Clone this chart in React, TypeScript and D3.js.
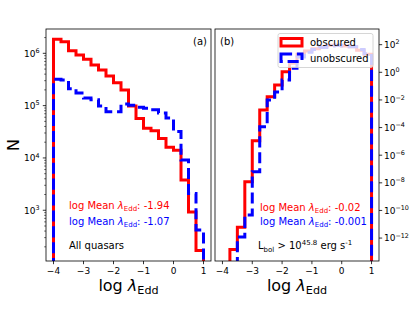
import React from 'react';
import * as d3 from 'd3';

// bin edges of log lambda_Edd histograms
const binEdges = [-4, -3.75, -3.5, -3.25, -3, -2.75, -2.5, -2.25, -2, -1.75, -1.5,
  -1.25, -1, -0.75, -0.5, -0.25, 0, 0.25, 0.5, 0.75, 1];

// panel (a): all quasars, counts per bin
const allObscured = [1.85e6, 1.67e6, 1.12e6, 9.3e5, 7.7e5, 6.0e5, 4.8e5, 3.7e5, 2.75e5, 2.0e5,
  9.8e4, 5.7e4, 3.7e4, 3.3e4, 2.35e4, 1.6e4, 1.4e4, 3.8e3, 9.3e2, 1.7e2];
const allUnobscured = [3.2e5, 3.1e5, 2.1e5, 1.75e5, 1.4e5, 1.3e5, 9.8e4, 7.6e4, 7.6e4, 1.07e5,
  1.02e5, 9.3e4, 8.9e4, 8.3e4, 7.2e4, 5.8e4, 3.2e4, 9.1e3, 2.1e3, 4.2e2];

// panel (b): L_bol > 10^45.8
const brightObscured = [0, 1.5e-13, 6.0e-12, 1.2e-8, 1.1e-5, 1.9e-3, 1.7e-2, 0.12, 1.1, 4.5,
  20, 35, 50, 70, 90, 90, 80, 70, 40, 20];
const brightUnobscured = [0, 0, 1.2e-12, 4.7e-11, 6.3e-8, 1.15e-4, 1.0e-2, 3.7e-2, 0.28, 2.0,
  13, 28, 45, 63, 80, 90, 80, 70, 45, 22];

const xTicks = [-4, -3, -2, -1, 0, 1];
const leftExps = [3, 4, 5, 6];
const rightExps = [2, 0, -2, -4, -6, -8, -10, -12];

const W = 415;
const H = 312;
const top = 29;
const bottom = 261;
const font = 'DejaVu Sans, sans-serif';
const RED = '#ff0000';
const BLUE = '#0000ff';

const xA = d3.scaleLinear().domain([-4.25, 1.25]).range([46, 211]);
const xB = d3.scaleLinear().domain([-4.25, 1.25]).range([215, 379]);
const yA = d3.scaleLog().domain([Math.pow(10, 2.03), Math.pow(10, 6.465)]).range([bottom, top]);
const yB = d3.scaleLog().domain([Math.pow(10, -13.66), Math.pow(10, 3.135)]).range([bottom, top]);

function stepPath(values: number[], x: any, y: any) {
  const low = bottom + 40;
  const yv = (v: number) => (v > 0 ? y(v) : low);
  const pts: [number, number][] = [[x(binEdges[0]), low]];
  values.forEach((v, i) => {
    pts.push([x(binEdges[i]), yv(v)]);
    pts.push([x(binEdges[i + 1]), yv(v)]);
  });
  pts.push([x(binEdges[binEdges.length - 1]), low]);
  return d3.line()(pts) || '';
}

function fmtExp(e: number) {
  return e < 0 ? '\u2212' + Math.abs(e) : String(e);
}

function Power({ x, y, exp, anchor }: { x: number; y: number; exp: number; anchor: string }) {
  return (
    <text x={x} y={y} fontSize={9} textAnchor={anchor} fontFamily={font} fill="#000">
      10<tspan fontSize={6.4} dy={-3.8}>{fmtExp(exp)}</tspan>
    </text>
  );
}

function MeanLabel({ x, y, color, val }: { x: number; y: number; color: string; val: string }) {
  return (
    <text x={x} y={y} fill={color} fontSize={10} fontFamily={font}>
      log Mean <tspan fontStyle="italic">λ</tspan>
      <tspan fontSize={7} dy={2.4}>Edd</tspan>
      <tspan dy={-2.4}>: {val}</tspan>
    </text>
  );
}

function XAxis({ x }: { x: any }) {
  return (
    <g>
      {xTicks.map(t => (
        <g key={t}>
          <line x1={x(t)} x2={x(t)} y1={bottom} y2={bottom + 3.2} stroke="#000" strokeWidth={0.8} />
          <text x={x(t)} y={274} fontSize={9} textAnchor="middle" fontFamily={font}>
            {t < 0 ? '\u2212' + Math.abs(t) : t}
          </text>
        </g>
      ))}
    </g>
  );
}

function XLabel({ cx }: { cx: number }) {
  return (
    <text x={cx} y={290.5} fontSize={16} textAnchor="middle" fontFamily={font}>
      log <tspan fontStyle="italic">λ</tspan>
      <tspan fontSize={11.2} dy={3.5}>Edd</tspan>
    </text>
  );
}

export default function App() {
  const minorA: number[] = [];
  for (let k = 2; k <= 6; k++) {
    for (let m = 2; m <= 9; m++) {
      const v = m * Math.pow(10, k);
      const [d0, d1] = yA.domain();
      if (v >= d0 && v <= d1) minorA.push(v);
    }
  }

  return (
    <svg width={W} height={H} style={{ position: 'absolute', left: 0, top: 0, background: '#fff' }}>
      <defs>
        <clipPath id="clipA"><rect x={46} y={top} width={165} height={bottom - top} /></clipPath>
        <clipPath id="clipB"><rect x={215} y={top} width={164} height={bottom - top} /></clipPath>
      </defs>

      {/* panel (a) */}
      <g clipPath="url(#clipA)">
        <path d={stepPath(allObscured, xA, yA)} fill="none" stroke={RED} strokeWidth={3} />
        <path d={stepPath(allUnobscured, xA, yA)} fill="none" stroke={BLUE} strokeWidth={3}
          strokeDasharray="11.1,4.8" />
      </g>
      <rect x={46} y={top} width={165} height={bottom - top} fill="none" stroke="#000" strokeWidth={0.8} />
      <XAxis x={xA} />
      {leftExps.map(e => (
        <g key={e}>
          <line x1={46} x2={42.8} y1={yA(Math.pow(10, e))} y2={yA(Math.pow(10, e))} stroke="#000" strokeWidth={0.8} />
          <Power x={39.6} y={yA(Math.pow(10, e)) + 3.4} exp={e} anchor="end" />
        </g>
      ))}
      {minorA.map((v, i) => (
        <line key={i} x1={46} x2={44.2} y1={yA(v)} y2={yA(v)} stroke="#000" strokeWidth={0.6} />
      ))}
      <text x={207} y={45} fontSize={10} textAnchor="end" fontFamily={font}>(a)</text>
      <MeanLabel x={69} y={208.6} color={RED} val="-1.94" />
      <MeanLabel x={69} y={224.6} color={BLUE} val="-1.07" />
      <text x={69} y={249.3} fontSize={10} fontFamily={font}>All quasars</text>
      <text transform="translate(18.5,145) rotate(-90)" fontSize={16} textAnchor="middle" fontFamily={font}>N</text>
      <XLabel cx={128.5} />

      {/* panel (b) */}
      <g clipPath="url(#clipB)">
        <path d={stepPath(brightObscured, xB, yB)} fill="none" stroke={RED} strokeWidth={3} />
        <path d={stepPath(brightUnobscured, xB, yB)} fill="none" stroke={BLUE} strokeWidth={3}
          strokeDasharray="11.1,4.8" />
      </g>
      <rect x={215} y={top} width={164} height={bottom - top} fill="none" stroke="#000" strokeWidth={0.8} />
      <XAxis x={xB} />
      {rightExps.map(e => (
        <g key={e}>
          <line x1={379} x2={382.2} y1={yB(Math.pow(10, e))} y2={yB(Math.pow(10, e))} stroke="#000" strokeWidth={0.8} />
          <Power x={384} y={yB(Math.pow(10, e)) + 3.4} exp={e} anchor="start" />
        </g>
      ))}
      <text x={220} y={45} fontSize={10} fontFamily={font}>(b)</text>
      <MeanLabel x={260} y={210.6} color={RED} val="-0.02" />
      <MeanLabel x={260} y={224.6} color={BLUE} val="-0.001" />
      <text x={258} y={249.3} fontSize={10} fontFamily={font}>
        L<tspan fontSize={7} dy={2.4}>bol</tspan>
        <tspan dy={-2.4}> &gt; 10</tspan>
        <tspan fontSize={7} dy={-4}>45.8</tspan>
        <tspan dy={4}> erg s</tspan>
        <tspan fontSize={7} dy={-4}>-1</tspan>
      </text>
      <XLabel cx={297} />

      {/* legend */}
      <g>
        <rect x={278} y={33.5} width={95} height={34} rx={2} fill="#fff" fillOpacity={0.8} stroke="#ccc" strokeWidth={0.8} />
        <rect x={281} y={38.5} width={21} height={7.5} fill="none" stroke={RED} strokeWidth={3} />
        <rect x={281} y={54} width={21} height={7.5} fill="none" stroke={BLUE} strokeWidth={3} strokeDasharray="11.1,4.8" />
        <text x={310} y={46.3} fontSize={10} fontFamily={font}>obscured</text>
        <text x={310} y={61.6} fontSize={10} fontFamily={font}>unobscured</text>
      </g>
    </svg>
  );
}
